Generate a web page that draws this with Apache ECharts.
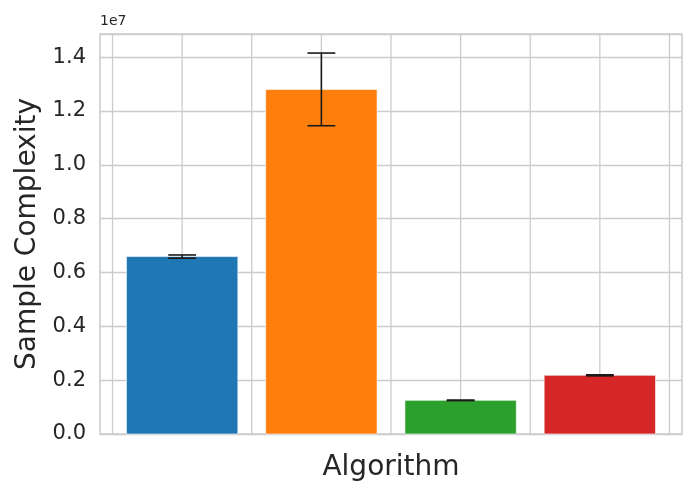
<!DOCTYPE html>
<html>
<head>
<meta charset="utf-8">
<script src="https://cdn.jsdelivr.net/npm/echarts@6/dist/echarts.min.js"></script>
<style>html,body{margin:0;padding:0;background:#fff}#c{width:700px;height:500px}</style>
</head>
<body>
<div id="c"></div>
<script>
// Data
const values = [6.59e6, 12.80e6, 1.25e6, 2.18e6];
const errors = [0.06e6, 1.35e6, 0.01e6, 0.02e6];
const yTicks = [0, 0.2e7, 0.4e7, 0.6e7, 0.8e7, 1.0e7, 1.2e7, 1.4e7];
const xGridPositions = [-0.5, 0, 0.5, 1, 1.5, 2, 2.5, 3, 3.5];

// Styles
const colors = ['#1f77b4', '#ff7f0e', '#2ca02c', '#d62728'];
const BAR_W = 0.8, CAP = 0.1;
const FONT = 'DejaVu Sans';
const TXT = '#262626';

const barData = values.map((v, i) => [i, v, errors[i]]);
const xMin = -0.4 - 0.05 * 3.8, xMax = 3.4 + 0.05 * 3.8;
const topErr = Math.max(...values.map((v, i) => v + errors[i]));
const yMax = topErr * 1.05;

const chart = echarts.init(document.getElementById('c'), null, {renderer: 'canvas'});
chart.setOption({
  animation: false,
  backgroundColor: '#fff',
  grid: {left: 100, right: 18, top: 34, bottom: 66, show: true, borderColor: '#cccccc', borderWidth: 1.6, backgroundColor: 'transparent'},
  xAxis: {
    type: 'value', min: xMin, max: xMax,
    axisLine: {show: false}, axisTick: {show: false}, axisLabel: {show: false}, splitLine: {show: false},
    name: 'Algorithm', nameLocation: 'middle', nameGap: 20,
    nameTextStyle: {fontFamily: FONT, fontSize: 28, color: TXT}
  },
  yAxis: {
    type: 'value', min: 0, max: yMax, interval: 0.2e7,
    axisLine: {show: false}, axisTick: {show: false},
    axisLabel: {fontFamily: FONT, fontSize: 21, color: TXT, margin: 14, showMaxLabel: false,
      formatter: v => yTicks.some(t => Math.abs(t - v) < 1) ? (v / 1e7).toFixed(1) : ''},
    splitLine: {lineStyle: {color: '#cccccc', width: 1.3}},
    name: 'Sample Complexity', nameLocation: 'middle', nameGap: 58,
    nameTextStyle: {fontFamily: FONT, fontSize: 28, color: TXT}
  },
  graphic: [{type: 'text', left: 100, top: 14, style: {text: '1e7', font: '14px "DejaVu Sans"', fill: TXT}}],
  series: [
    {
      type: 'custom', z: 1, silent: true, data: xGridPositions,
      renderItem(params, api) {
        const x = api.coord([api.value(0), 0])[0];
        const cs = params.coordSys;
        return {type: 'line', shape: {x1: x, y1: cs.y, x2: x, y2: cs.y + cs.height},
          style: {stroke: '#cccccc', lineWidth: 1.3}};
      }
    },
    {
      type: 'custom', z: 3, data: barData,
      renderItem(params, api) {
        const x = api.value(0), y = api.value(1);
        const tl = api.coord([x - BAR_W / 2, y]);
        const br = api.coord([x + BAR_W / 2, 0]);
        return {type: 'rect', shape: {x: tl[0], y: tl[1], width: br[0] - tl[0], height: br[1] - tl[1]},
          style: {fill: colors[params.dataIndex], stroke: 'rgba(255,255,255,0.6)', lineWidth: 1}};
      }
    },
    {
      type: 'custom', z: 4, data: barData,
      renderItem(params, api) {
        const x = api.value(0), y = api.value(1), e = api.value(2);
        const hi = api.coord([x, y + e]), lo = api.coord([x, y - e]);
        const l = api.coord([x - CAP, 0])[0], r = api.coord([x + CAP, 0])[0];
        const st = {stroke: '#1a1a1a', lineWidth: 1.6};
        return {type: 'group', children: [
          {type: 'line', shape: {x1: hi[0], y1: hi[1], x2: lo[0], y2: lo[1]}, style: st},
          {type: 'line', shape: {x1: l, y1: hi[1], x2: r, y2: hi[1]}, style: st},
          {type: 'line', shape: {x1: l, y1: lo[1], x2: r, y2: lo[1]}, style: st}
        ]};
      }
    }
  ]
});
</script>
</body>
</html>
